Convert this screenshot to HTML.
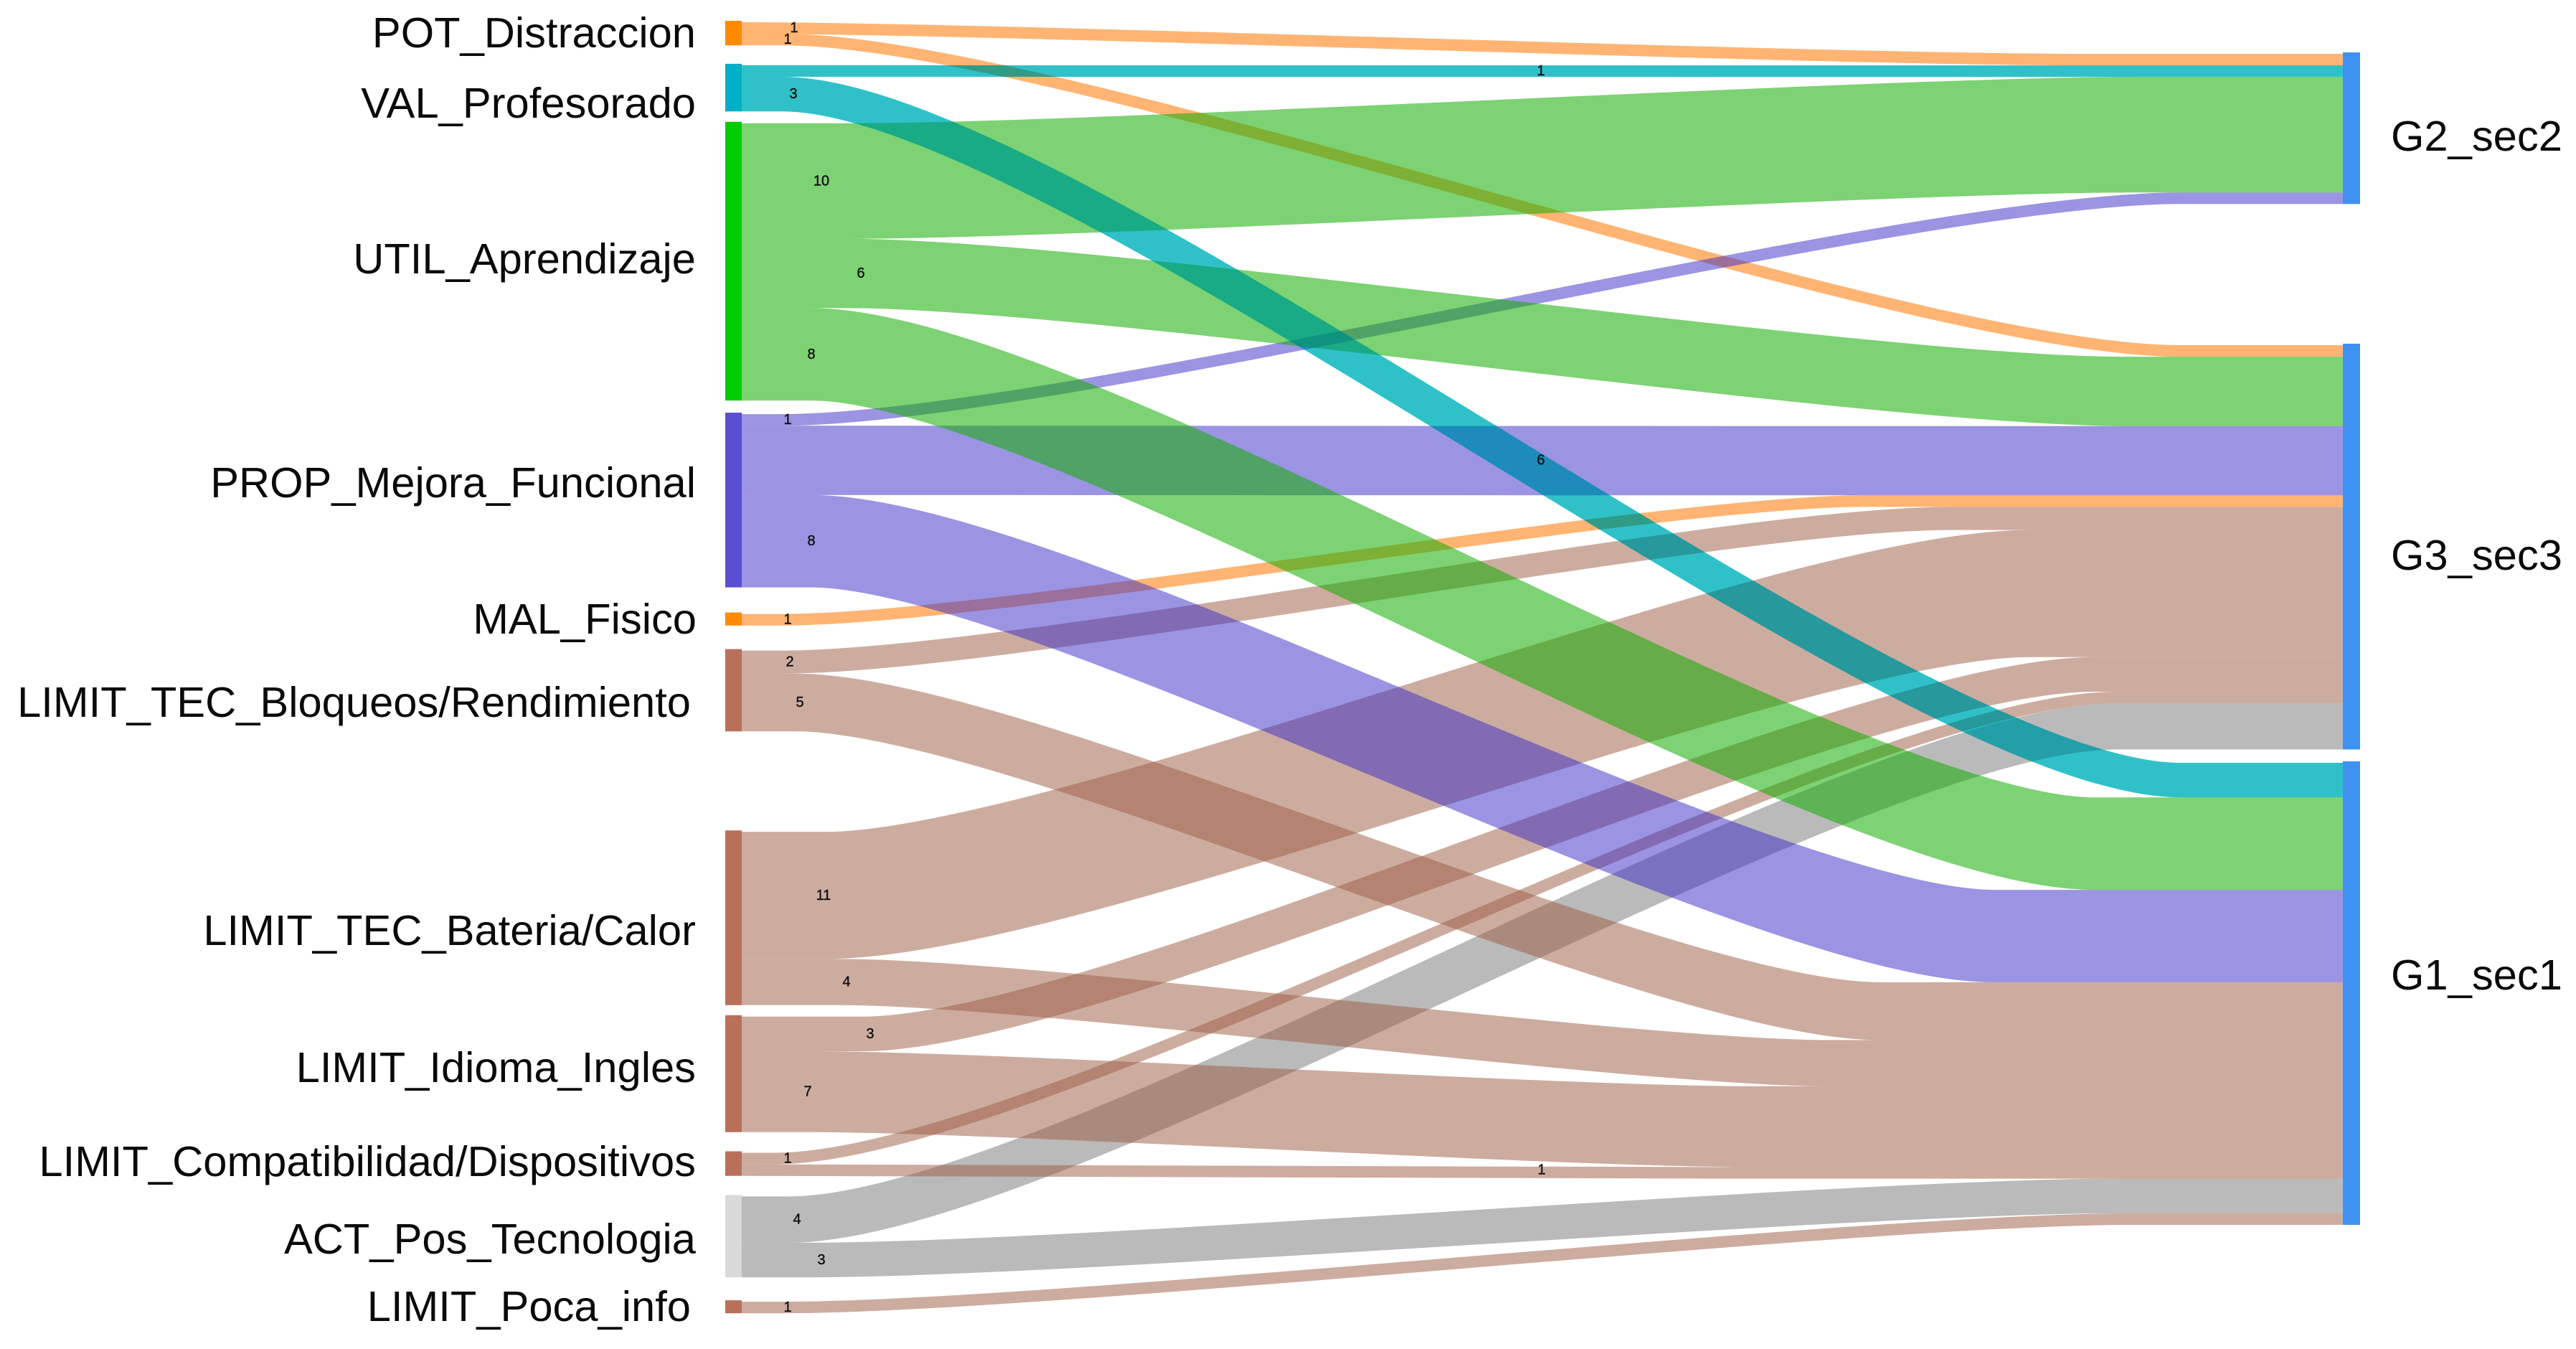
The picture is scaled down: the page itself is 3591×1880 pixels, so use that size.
<!DOCTYPE html>
<html lang="es">
<head>
<meta charset="utf-8">
<title>Sankey</title>
<style>
html,body{margin:0;padding:0;background:#fff;}
svg{display:block;}
.n{font-family:"Liberation Sans",sans-serif;font-size:59.7px;fill:#0a0a0a;}
.v{font-family:"Liberation Sans",sans-serif;font-size:20px;fill:#111;stroke:#111;stroke-width:.4px;text-anchor:middle;dominant-baseline:central;}
</style>
</head>
<body>
<svg id="chart" width="3591" height="1880" viewBox="0 0 3591 1880" xmlns="http://www.w3.org/2000/svg">
<rect width="3591" height="1880" fill="#ffffff"/>
<g id="links"></g>
<g id="nodes"></g>
<g id="values"></g>
<g text-anchor="end">
<text class="n" x="970" y="66">POT_Distraccion</text>
<text class="n" x="970" y="164">VAL_Profesorado</text>
<text class="n" x="970" y="381">UTIL_Aprendizaje</text>
<text class="n" x="970" y="693">PROP_Mejora_Funcional</text>
<text class="n" x="971" y="883">MAL_Fisico</text>
<text class="n" x="963" y="999">LIMIT_TEC_Bloqueos/Rendimiento</text>
<text class="n" x="970" y="1317">LIMIT_TEC_Bateria/Calor</text>
<text class="n" x="970" y="1508">LIMIT_Idioma_Ingles</text>
<text class="n" x="970" y="1639">LIMIT_Compatibilidad/Dispositivos</text>
<text class="n" x="970" y="1747">ACT_Pos_Tecnologia</text>
<text class="n" x="963" y="1841">LIMIT_Poca_info</text>
</g>
<g>
<text class="n" x="3333" y="210">G2_sec2</text>
<text class="n" x="3333" y="794">G3_sec3</text>
<text class="n" x="3333" y="1379">G1_sec1</text>
</g>
</svg>
<script>
// Sankey data
const sourceNames = ["POT_Distraccion","VAL_Profesorado","UTIL_Aprendizaje","PROP_Mejora_Funcional","MAL_Fisico","LIMIT_TEC_Bloqueos","LIMIT_TEC_Bateria","LIMIT_Idioma_Ingles","LIMIT_Compatibilidad","ACT_Pos_Tecnologia","LIMIT_Poca_info"];
const targetNames = ["G2_sec2","G3_sec3","G1_sec1"];
const linkSource = [0,0,1,1,2,2,2,3,3,3,4,5,5,6,6,7,7,8,8,9,9,10];
const linkTarget = [0,1,0,2,0,1,2,0,1,2,1,1,2,1,2,1,2,1,2,1,2,2];
const linkValue  = [1,1,1,3,10,6,8,1,6,8,1,2,5,11,4,3,7,1,1,4,3,1];

// Layout constants (ribbon shape, not data)
const UNIT = 16.1;
const X_SRC0 = 1011, X_SRC1 = 1034, X_TGT0 = 3266, X_TGT1 = 3290;
const BEND_K = 0.2;
const bendStart = [1034,1090,1034,1090,1180,1180,1130,1090,1034,1130,1090,1090,1110,1150,1170,1200,1130,1080,1034,1100,1130,1090];
const bendEnd   = [2900,3040,2400,3040,2980,2960,2920,3040,2400,2780,2600,2720,2620,2830,2550,2920,2440,2950,2400,2950,2950,2970];
const sourceGaps = [31,27.7,16.5,18.9,37,34.9,140,16,28.7,28.7,34];
const targetGaps = [75,196.7,18.5];
const valueLabelX = [1107,1098,2148,1106,1145,1200,1131,1098,2148,1131,1098,1101,1115,1148,1180,1213,1126,1098,2149,1111,1145,1098];
const sourceFamily = ["orange","teal","green","purple","orange","brown","brown","brown","brown","grey","brown"];
const familyOrder = ["orange","grey","brown","purple","green","teal"];
const linkPaint = {
  orange:[{c:"rgb(255,119,0)",o:0.55}],
  grey:[{c:"rgb(117,117,117)",o:0.5}],
  brown:[{c:"rgb(155,89,65)",o:0.5}],
  purple:[{c:"rgb(55,41,197)",o:0.5}],
  green:[{c:"rgb(19,173,0)",o:0.55}],
  teal:[{c:"rgb(0,131,162)",o:0.5},{c:"rgb(96,255,245)",o:1,m:"multiply"}]
};
const nodeFill = {orange:"#ff8a00",teal:"#00afc6",green:"#00cc00",purple:"#5a4fd2",brown:"#b9705a",grey:"#d9d9d9"};
const NS = "http://www.w3.org/2000/svg";

function layoutTops(gaps, totals){
  const tops = [];
  let y = 0;
  totals.forEach(function(t,i){ y += gaps[i]; tops.push(y); y += t*UNIT; });
  return tops;
}
function sumBy(keys, n){
  const out = new Array(n).fill(0);
  keys.forEach(function(k,i){ out[k] += linkValue[i]; });
  return out;
}
const sourceTotals = sumBy(linkSource, sourceNames.length);
const targetTotals = sumBy(linkTarget, targetNames.length);
const sourceTops = layoutTops(sourceGaps, sourceTotals);
const targetTops = layoutTops(targetGaps, targetTotals);

const sCursor = sourceTops.slice();
const tCursor = targetTops.slice();
const computed = linkValue.map(function(v,i){
  const w = v*UNIT;
  const y0 = sCursor[linkSource[i]] + w/2;
  const y1 = tCursor[linkTarget[i]] + w/2;
  sCursor[linkSource[i]] += w;
  tCursor[linkTarget[i]] += w;
  return {w:w,y0:y0,y1:y1,fam:sourceFamily[linkSource[i]],i:i};
});
function linkPath(l){
  const a = bendStart[l.i], b = bendEnd[l.i], d = (b-a)*BEND_K;
  return "M"+X_SRC1+" "+l.y0+"L"+a+" "+l.y0+"C"+(a+d)+" "+l.y0+" "+(b-d)+" "+l.y1+" "+b+" "+l.y1+"L"+X_TGT0+" "+l.y1;
}
const linksG = document.getElementById("links");
familyOrder.forEach(function(fam){
  computed.filter(function(l){return l.fam===fam;}).forEach(function(l){
    linkPaint[fam].forEach(function(p){
      const el = document.createElementNS(NS,"path");
      
      
      el.setAttribute("d",linkPath(l));
      el.setAttribute("fill","none");
      el.setAttribute("stroke",p.c);
      el.setAttribute("stroke-opacity",p.o);
      el.setAttribute("stroke-width",l.w);
      if(p.m){el.style.mixBlendMode=p.m;}
      linksG.appendChild(el);
    });
  });
});
const nodesG = document.getElementById("nodes");
const NODE_PAD = 2;
sourceNames.forEach(function(n,i){
  const el = document.createElementNS(NS,"rect");
  
  
  el.setAttribute("x",X_SRC0);
  el.setAttribute("y",sourceTops[i]-NODE_PAD);
  el.setAttribute("width",X_SRC1-X_SRC0);
  el.setAttribute("height",sourceTotals[i]*UNIT+NODE_PAD);
  el.setAttribute("fill",nodeFill[sourceFamily[i]]);
  nodesG.appendChild(el);
});
targetNames.forEach(function(n,i){
  const el = document.createElementNS(NS,"rect");
  
  
  el.setAttribute("x",X_TGT0);
  el.setAttribute("y",targetTops[i]-NODE_PAD);
  el.setAttribute("width",X_TGT1-X_TGT0);
  el.setAttribute("height",targetTotals[i]*UNIT+NODE_PAD);
  el.setAttribute("fill","#3f92f2");
  nodesG.appendChild(el);
});
const valuesG = document.getElementById("values");
computed.forEach(function(l){
  const el = document.createElementNS(NS,"text");
  
  
  el.setAttribute("class","v");
  el.setAttribute("x",valueLabelX[l.i]);
  el.setAttribute("y",l.y0);
  el.textContent = String(linkValue[l.i]);
  valuesG.appendChild(el);
});
</script>
</body>
</html>
